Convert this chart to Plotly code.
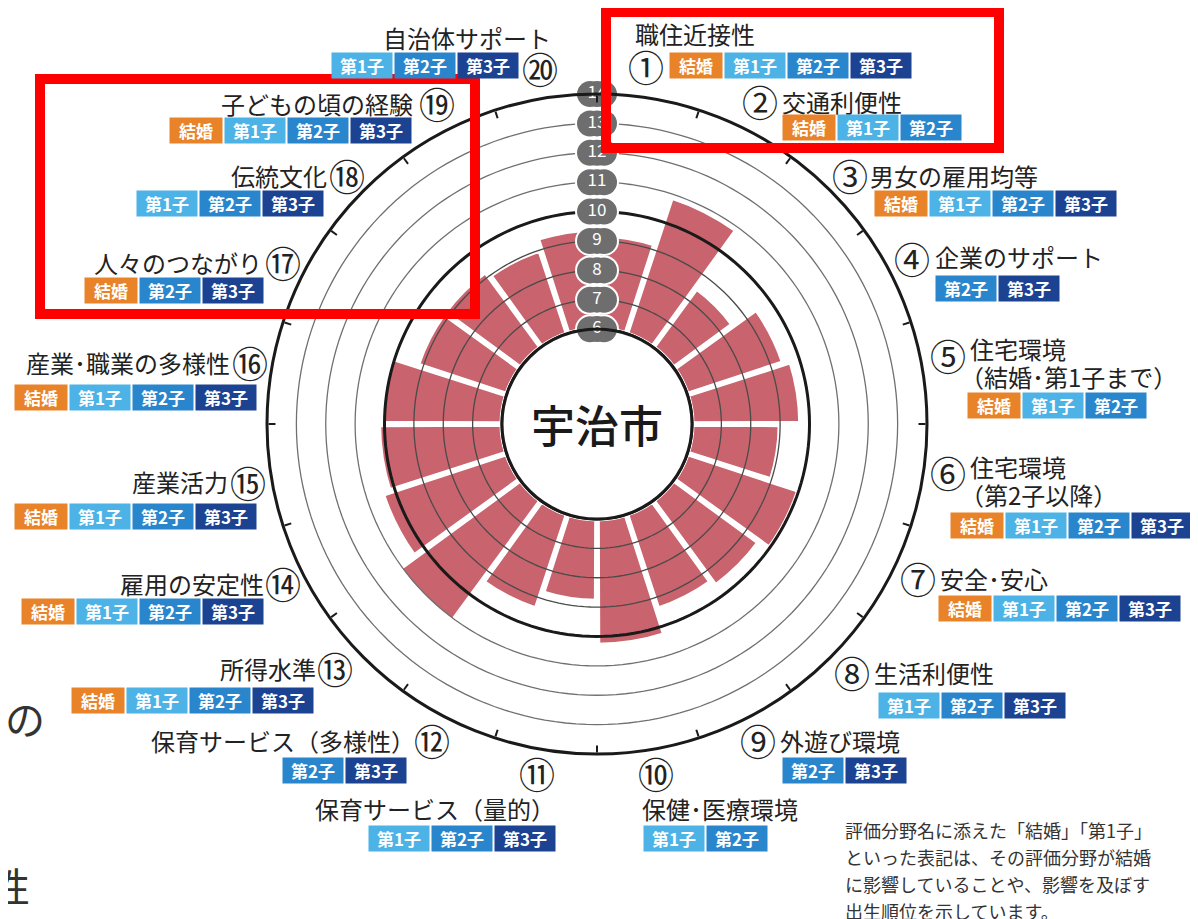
import math

import plotly.graph_objects as go

W, H = 1198, 919
OFF = 8  # the page body adds an 8px margin
FONT = "Noto Sans CJK JP"

# evaluation fields, clockwise from the top
categories = ["職住近接性", "交通利便性", "男女の雇用均等", "企業のサポート",
              "住宅環境<br>（結婚･第1子まで）", "住宅環境<br>（第2子以降）", "安全･安心",
              "生活利便性", "外遊び環境", "保健･医療環境", "保育サービス（量的）",
              "保育サービス（多様性）", "所得水準", "雇用の安定性", "産業活力",
              "産業･職業の多様性", "人々のつながり", "伝統文化", "子どもの頃の経験",
              "自治体サポート"]

# scores
scores = [9.2, 10.9, 8.5, 9.45, 9.7, 9.0, 10.0, 9.6, 9.4, 10.3,
          8.8, 9.4, 11.1, 10.45, 10.2, 10.1, 9.2, 9.2, 9.0, 9.4]

ALL4 = ["結婚", "第1子", "第2子", "第3子"]
tags = [ALL4, ["結婚", "第1子", "第2子"], ALL4, ["第2子", "第3子"],
        ["結婚", "第1子", "第2子"], ALL4, ALL4, ["第1子", "第2子", "第3子"],
        ["第2子", "第3子"], ["第1子", "第2子"], ["第1子", "第2子", "第3子"],
        ["第2子", "第3子"], ALL4, ALL4, ALL4, ALL4, ["結婚", "第2子", "第3子"],
        ["第1子", "第2子", "第3子"], ALL4, ["第1子", "第2子", "第3子"]]

ring_values = [6, 7, 8, 9, 10, 11, 12, 13, 14]

tag_colors = {"結婚": "#e8832a", "第1子": "#4db3e6", "第2子": "#2a86cc", "第3子": "#1c4292"}
tag_width = {"結婚": 52, "第1子": 60, "第2子": 60, "第3子": 60}

note_lines = ["評価分野名に添えた「結婚」「第1子」",
              "といった表記は、その評価分野が結婚",
              "に影響していることや、影響を及ぼす",
              "出生順位を示しています。"]

# label placement in pixels: number (x, y), text (x, y, anchor), tag row (x, y, anchor)
label_pos = [
    ((646, 66), (633, 33, "left"), (669, 66, "left")),
    ((760, 101), (780, 101, "left"), (782, 128, "left")),
    ((850, 175), (868, 175, "left"), (874, 203, "left")),
    ((912, 258), (933, 257, "left"), (935, 288, "left")),
    ((948, 355), (966, 362, "left"), (967, 405, "left")),
    ((948, 472), (966, 480, "left"), (950, 525, "left")),
    ((918, 578), (938, 578, "left"), (938, 608, "left")),
    ((852, 672), (872, 672, "left"), (878, 705, "left")),
    ((758, 740), (778, 740, "left"), (782, 770, "left")),
    ((656, 773), (640, 808, "left"), (643, 838, "left")),
    ((537, 773), (557, 808, "right"), (554, 838, "right")),
    ((432, 740), (417, 740, "right"), (405, 770, "right")),
    ((335, 668), (318, 668, "right"), (312, 700, "right")),
    ((283, 583), (266, 583, "right"), (262, 611, "right")),
    ((248, 482), (230, 482, "right"), (255, 516, "right")),
    ((250, 362), (232, 362, "right"), (255, 397, "right")),
    ((283, 262), (264, 262, "right"), (262, 290, "right")),
    ((347, 175), (329, 175, "right"), (322, 203, "right")),
    ((437, 103), (415, 103, "right"), (410, 130, "right")),
    ((540, 68), (553, 37, "right"), (517, 66, "right")),
]


def px(x):
    return (x - OFF) / W


def py(y):
    return 1 - (y - OFF) / H


def text_ann(x, y, text, size, xanchor="center", color="#222", **kw):
    return dict(x=px(x), y=py(y), text=text, showarrow=False, xanchor=xanchor,
                yanchor="middle", font=dict(size=size, color=color, family=FONT), **kw)


R = 330
HOLE = 95
cx, cy = 597, 424

theta = [9 + 18 * i for i in range(len(scores))]
circle = list(range(0, 361, 2))

fig = go.Figure()

fig.add_trace(go.Barpolar(r=scores, theta=theta, width=17.6,
                          marker=dict(color="#c9636d", line=dict(color="white", width=5)),
                          hoverinfo="skip"))

for v in ring_values:
    if v in (6, 10):
        color, width = "#1a1a1a", 3
    elif v < 10:
        color, width = "#4a4a4a", 1.3
    else:
        color, width = "#707070", 1.3
    fig.add_trace(go.Scatterpolar(r=[v] * len(circle), theta=circle, mode="lines",
                                  line=dict(color=color, width=width), hoverinfo="skip",
                                  cliponaxis=False))

# oval badges for the ring values: three overlapping dots side by side
badge_r, badge_t = [], []
for v in ring_values:
    rp = HOLE + (v - 6) * (R - HOLE) / 8
    for shift in (-7, 0, 7):
        badge_r.append(v)
        badge_t.append(math.degrees(shift / rp))
for size, color in ((30, "white"), (26, "#6e6e6e")):
    fig.add_trace(go.Scatterpolar(r=badge_r, theta=badge_t, mode="markers",
                                  marker=dict(symbol="circle", size=size, color=color),
                                  cliponaxis=False, hoverinfo="skip"))
fig.add_trace(go.Scatterpolar(r=ring_values, theta=[0] * len(ring_values), mode="text",
                              text=[str(v) for v in ring_values],
                              textfont=dict(color="white", size=17, family=FONT),
                              cliponaxis=False, hoverinfo="skip"))

fig.update_layout(
    width=W, height=H,
    margin=dict(l=0, r=0, t=0, b=0),
    paper_bgcolor="white",
    showlegend=False,
    font=dict(family=FONT, color="#333"),
    polar=dict(
        domain=dict(x=[px(cx - R), px(cx + R)], y=[py(cy + R), py(cy - R)]),
        hole=HOLE / R,
        bgcolor="white",
        radialaxis=dict(range=[6, 14], visible=False, showgrid=False),
        angularaxis=dict(rotation=90, direction="clockwise", thetaunit="degrees",
                         tick0=0, dtick=18, ticks="inside", ticklen=7, tickwidth=1.5,
                         tickcolor="#1a1a1a", showticklabels=False, showgrid=False,
                         showline=True, linewidth=3, linecolor="#1a1a1a"),
    ),
)

center = text_ann(cx, cy, "宇治市", 44, color="#1a1a1a")
center["font"]["weight"] = 500
ann = [center]

for i, name in enumerate(categories):
    (nx, ny), (tx, ty, tanchor), (gx, gy, ganchor) = label_pos[i]
    ann.append(text_ann(nx, ny, chr(0x2460 + i), 36))
    if "<br>" in name:
        first, second = name.split("<br>")
        ann.append(text_ann(tx + 2, ty - 14, first, 24, xanchor="left"))
        ann.append(text_ann(tx - 8, ty + 14, second, 24, xanchor="left"))
    else:
        ann.append(text_ann(tx, ty, name, 24, xanchor=tanchor))
    row = tags[i]
    total = sum(tag_width[t] for t in row) + 3 * (len(row) - 1)
    x0 = gx if ganchor == "left" else gx - total
    for t in row:
        w = tag_width[t]
        ann.append(text_ann(x0, gy, "<b>" + t + "</b>", 17, xanchor="left", color="white",
                            bgcolor=tag_colors[t], width=w - 4, height=21, borderpad=2))
        x0 += w + 3

# fragments of the surrounding page and the note
ann.append(text_ann(47, 718, "間の", 40, xanchor="right", color="#333"))
ann.append(text_ann(32, 885, "性", 40, xanchor="right", color="#333"))
for k, line in enumerate(note_lines):
    ann.append(text_ann(843, 830 + 27 * k, line, 18, xanchor="left", color="#333"))
fig.update_layout(annotations=ann)

fig.add_shape(type="rect", xref="paper", yref="paper", x0=px(40), x1=px(475),
              y0=py(314), y1=py(79), line=dict(color="#ff0000", width=10))
fig.add_shape(type="rect", xref="paper", yref="paper", x0=px(606), x1=px(999),
              y0=py(148), y1=py(12), line=dict(color="#ff0000", width=10))

fig.write_html("out.html")
